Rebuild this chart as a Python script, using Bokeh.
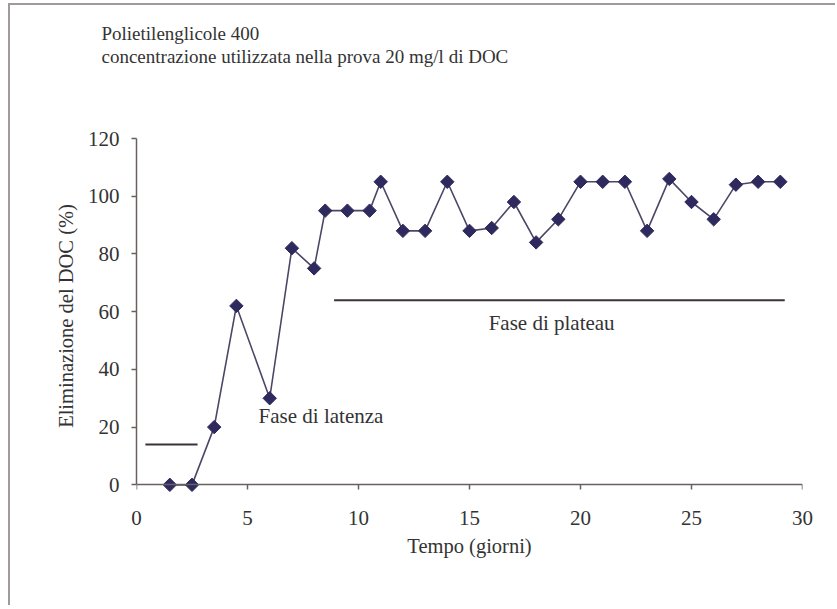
import numpy as np
from bokeh.plotting import figure
from bokeh.models import (ColumnDataSource, FixedTicker, Range1d, Title, LinearAxis,
                          CustomJSTickFormatter)
from bokeh.core.properties import value
from bokeh.embed import file_html
from bokeh.resources import INLINE

# ---- data ----
days = [1.5, 2.5, 3.5, 4.5, 6, 7, 8, 8.5, 9.5, 10.5, 11, 12, 13, 14, 15, 16, 17,
        18, 19, 20, 21, 22, 23, 24, 25, 26, 27, 28, 29]
removal = [0, 0, 20, 62, 30, 82, 75, 95, 95, 95, 105, 88, 88, 105, 88, 89, 98,
           84, 92, 105, 105, 105, 88, 106, 98, 92, 104, 105, 105]

phase_names = ["Fase di latenza", "Fase di plateau"]
phase_x0 = [0.4, 8.9]
phase_x1 = [2.75, 29.2]
phase_y = [14, 64]
phase_label_x = [5.5, 18.7]
phase_label_y = [24, 56]

x_ticks = [0, 5, 10, 15, 20, 25, 30]
y_ticks = [0, 20, 40, 60, 80, 100, 120]

title_lines = ["Polietilenglicole 400",
               "concentrazione utilizzata nella prova 20 mg/l di DOC"]
x_label = "Tempo (giorni)"
y_label = "Eliminazione del DOC (%)"

FONT = "Liberation Serif"
TXT = "#333333"
AX = "#6b6060"

p = figure(width=827, height=602, output_backend="svg", toolbar_location=None,
           x_range=Range1d(0, 30), y_range=Range1d(-3, 120),
           min_border_left=126, min_border_right=35, min_border_top=133,
           min_border_bottom=114)
p.outline_line_color = None
p.grid.visible = False
p.background_fill_color = "white"
p.border_fill_color = "white"
p.styles = {"border-left": "2px solid #a09a9a", "border-top": "2px solid #a09a9a",
            "margin-left": "8px", "margin-top": "3px"}

# y axis
p.yaxis.ticker = FixedTicker(ticks=y_ticks)
p.yaxis.bounds = (0, 120)
p.yaxis.axis_line_color = AX
p.yaxis.axis_line_width = 1.5
p.yaxis.major_tick_line_color = AX
p.yaxis.major_tick_line_width = 1.5
p.yaxis.major_tick_in = 0
p.yaxis.major_tick_out = 5
p.yaxis.major_label_standoff = 12
p.yaxis.axis_label_standoff = 8

# bottom axis: labels only (sits at frame bottom)
p.xaxis.ticker = FixedTicker(ticks=x_ticks)
p.xaxis.axis_line_color = None
p.xaxis.major_tick_line_color = None
p.xaxis.major_tick_in = 0
p.xaxis.major_tick_out = 0
p.xaxis.major_label_standoff = 17
p.xaxis.axis_label_standoff = 7

for ax in (p.xaxis, p.yaxis):
    ax.minor_tick_line_color = None
    ax.major_label_text_font = FONT
    ax.major_label_text_font_size = "21px"
    ax.major_label_text_color = TXT
    ax.axis_label_text_font = FONT
    ax.axis_label_text_font_size = "20.5px"
    ax.axis_label_text_font_style = "normal"
    ax.axis_label_text_color = TXT
p.xaxis.axis_label = x_label
p.yaxis.axis_label = y_label

# axis line and ticks at y = 0
ax0 = LinearAxis(fixed_location=0, bounds=(0, 30), ticker=FixedTicker(ticks=x_ticks),
                 axis_line_color=AX, axis_line_width=1.5,
                 major_tick_line_color=AX, major_tick_line_width=1.5,
                 major_tick_in=0, major_tick_out=5, minor_tick_line_color=None,
                 formatter=CustomJSTickFormatter(code="return ''"),
                 major_label_text_font_size="1px", major_label_standoff=0)
p.add_layout(ax0, "below")

# data
src = ColumnDataSource(dict(x=days, y=removal))
p.line("x", "y", source=src, line_color="#4f4566", line_width=1.6)
p.scatter("x", "y", source=src, marker="square", angle=np.pi / 4, size=9.5,
          fill_color="#2e2a5e", line_color="#2e2a5e")

# phase annotations
p.segment(x0=phase_x0, y0=phase_y, x1=phase_x1, y1=phase_y,
          line_color="#3d3333", line_width=2)
p.text(x=phase_label_x[:1], y=phase_label_y[:1], text=phase_names[:1],
       text_font=value(FONT), text_font_size="21px", text_color=TXT,
       text_align="left", text_baseline="middle")
p.text(x=phase_label_x[1:], y=phase_label_y[1:], text=phase_names[1:],
       text_font=value(FONT), text_font_size="21px", text_color=TXT,
       text_align="center", text_baseline="middle")

# title lines: a blank spacer nearest the frame, then the two lines
p.add_layout(Title(text=" ", standoff=59, text_font_size="10px"), "above")
p.add_layout(Title(text=title_lines[1], align="left", offset=-35, standoff=0,
                   text_font=FONT, text_font_size="19px", text_font_style="normal",
                   text_color=TXT), "above")
p.add_layout(Title(text=title_lines[0], align="left", offset=-35, standoff=0,
                   text_font=FONT, text_font_size="19px", text_font_style="normal",
                   text_color=TXT), "above")

open("out.html", "w").write(file_html(p, INLINE))
